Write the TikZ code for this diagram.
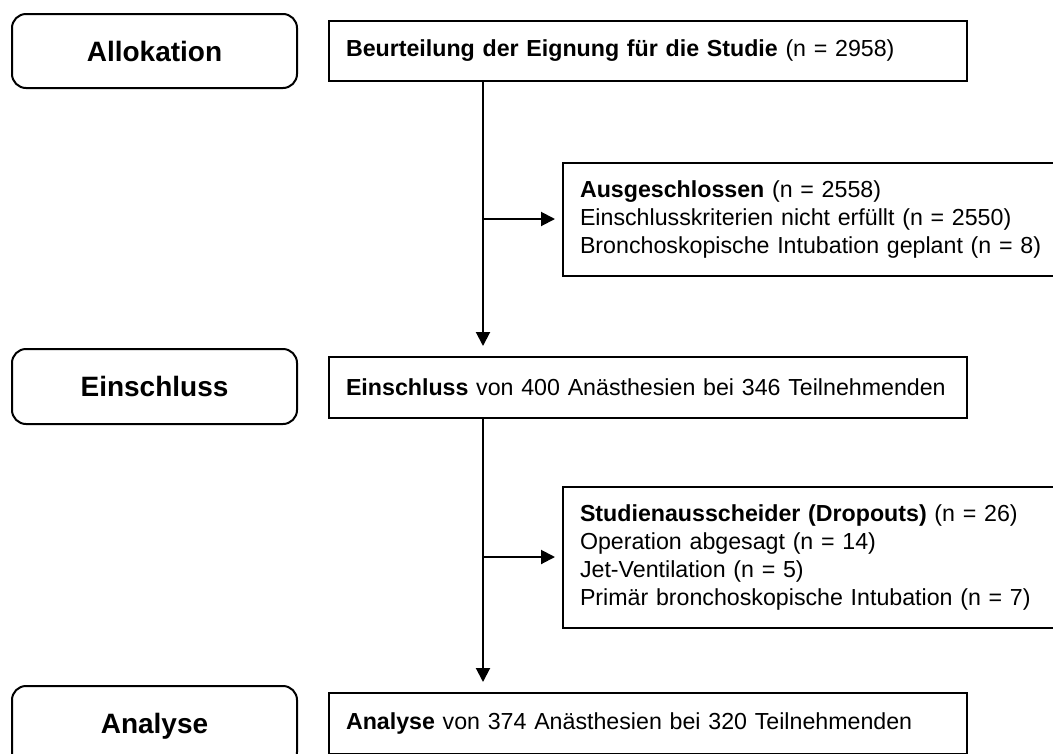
\documentclass[tikz,border=0pt]{standalone}
\usepackage{fontspec}
\setmainfont{Liberation Sans}
\usetikzlibrary{arrows.meta,calc}
\begin{document}
\begin{tikzpicture}[x=1pt,y=-1pt,
  stage/.style={draw,line width=2pt,rounded corners=14pt,minimum width=285pt,font=\fontsize{28}{32}\selectfont\bfseries,anchor=north west,inner sep=0pt},
  flowbox/.style={draw,line width=2pt,anchor=north west,align=left,inner xsep=17pt,inner ysep=0pt,font=\fontsize{23.2}{27.7}\selectfont},
  arr/.style={line width=2pt,-{Triangle[length=14pt,width=14pt]}},
]
\clip (0,0) rectangle (1053,753);
\useasboundingbox (0,0) rectangle (1053,753);
% left stage labels
\node[stage,minimum height=74pt] (sA) at (11,13) {Allokation};
\node[stage,minimum height=75pt] (sE) at (11,348) {Einschluss};
\node[stage,minimum height=80pt] (sN) at (11,685) {Analyse};
% main boxes
\node[flowbox,minimum width=638pt,minimum height=60pt,text width=604pt] (b1) at (328,20) {\textbf{Beurteilung der Eignung für die Studie} (n = 2958)};
\node[flowbox,minimum width=638pt,minimum height=61pt,text width=604pt] (b2) at (328,356) {\textbf{Einschluss} von 400 Anästhesien bei 346 Teilnehmenden};
\node[flowbox,minimum width=638pt,minimum height=61pt,text width=604pt] (b3) at (328,692) {\textbf{Analyse} von 374 Anästhesien bei 320 Teilnehmenden};
% side boxes
\node[flowbox,minimum width=500pt,minimum height=113pt,text width=466pt] (ex) at (562,162) {\textbf{Ausgeschlossen} (n = 2558)\\Einschlusskriterien nicht erfüllt (n = 2550)\\Bronchoskopische Intubation geplant (n = 8)};
\node[flowbox,minimum width=500pt,minimum height=141pt,text width=466pt] (dr) at (562,486) {\textbf{Studienausscheider (Dropouts)} (n = 26)\\Operation abgesagt (n = 14)\\Jet-Ventilation (n = 5)\\Primär bronchoskopische Intubation (n = 7)};
% connectors
\coordinate (tx) at (483,0);
\coordinate (j1) at (483,219);
\coordinate (j2) at (483,557);
\draw[arr,shorten >=10pt] (tx |- b1.south) -- (tx |- b2.north);
\draw[arr,shorten >=10pt] (tx |- b2.south) -- (tx |- b3.north);
\draw[arr,shorten >=7pt] (j1) -- (j1 -| ex.west);
\draw[arr,shorten >=7pt] (j2) -- (j2 -| dr.west);
\end{tikzpicture}
\end{document}
